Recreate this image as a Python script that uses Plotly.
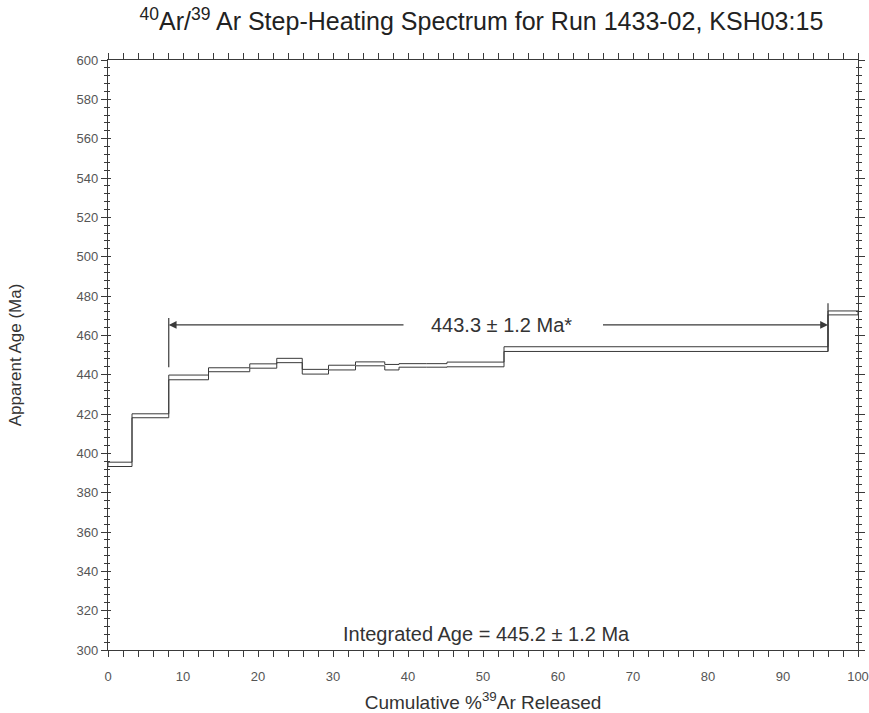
import plotly.graph_objects as go

# Cumulative % 39Ar released at step boundaries
boundaries = [0, 3.2, 8.1, 13.4, 18.9, 22.5, 25.9, 29.4, 33.0, 36.9, 38.8, 42.5, 45.2, 52.8, 96.0, 100]
# Apparent age (Ma) and 1-sigma error of each heating step
ages = [394.4, 419.1, 438.6, 442.5, 444.4, 447.2, 441.5, 443.6, 445.5, 443.8, 444.7, 444.7, 445.2, 453.0, 471.4]
errors = [1.1, 1.0, 1.2, 1.0, 1.1, 1.1, 1.2, 1.2, 1.0, 1.4, 0.9, 0.9, 1.2, 1.2, 1.0]

# Plateau definition
plateau_start, plateau_end = 8.1, 96.0
plateau_label = "443.3 ± 1.2 Ma*"
plateau_arrow_age = 465.3
integrated_label = "Integrated Age = 445.2 ± 1.2 Ma"

x_ticks = list(range(0, 101, 10))
y_ticks = list(range(300, 601, 20))

LINE = "#3a3a3a"
TEXT = "#333333"
FONT = "Liberation Sans, Arial, Helvetica, sans-serif"

upper = [a + e for a, e in zip(ages, errors)]
lower = [a - e for a, e in zip(ages, errors)]

fig = go.Figure()

# Upper and lower envelopes of the age spectrum as staircases
for env in (upper, lower):
    fig.add_trace(go.Scatter(
        x=boundaries, y=env + [env[-1]], mode="lines",
        line=dict(shape="hv", color=LINE, width=1),
        hoverinfo="skip", showlegend=False))

# Close the boxes at the ends of the spectrum
for xb, i in ((boundaries[0], 0), (boundaries[-1], -1)):
    fig.add_trace(go.Scatter(
        x=[xb, xb], y=[lower[i], upper[i]], mode="lines",
        line=dict(color=LINE, width=1), hoverinfo="skip", showlegend=False))

# Inside tick marks on the y axes (drawn through an overlaid axis)
fig.add_trace(go.Scatter(x=[0], y=[300], yaxis="y2", mode="markers",
                         marker=dict(opacity=0), hoverinfo="skip", showlegend=False))

# Plateau bracket verticals
i0 = boundaries.index(plateau_start)
i1 = boundaries.index(plateau_end)
fig.add_shape(type="line", x0=plateau_start, x1=plateau_start,
              y0=upper[i0] + 4, y1=plateau_arrow_age + 3.5,
              line=dict(color=LINE, width=1.2))
fig.add_shape(type="line", x0=plateau_end, x1=plateau_end,
              y0=lower[i1 - 1], y1=plateau_arrow_age + 11,
              line=dict(color=LINE, width=1.2))

# Plateau arrows and label
mid = 52.5
fig.add_annotation(x=mid, y=plateau_arrow_age, text=plateau_label, showarrow=False,
                   font=dict(family=FONT, size=20, color=TEXT), xanchor="center")
fig.add_annotation(x=plateau_start, y=plateau_arrow_age, ax=39.6, ay=plateau_arrow_age,
                   axref="x", ayref="y", text="", showarrow=True, arrowhead=2,
                   arrowsize=1.3, arrowwidth=1.2, arrowcolor=LINE)
fig.add_annotation(x=plateau_end, y=plateau_arrow_age, ax=65.8, ay=plateau_arrow_age,
                   axref="x", ayref="y", text="", showarrow=True, arrowhead=2,
                   arrowsize=1.3, arrowwidth=1.2, arrowcolor=LINE)

fig.add_annotation(x=50.5, y=301.5, text=integrated_label, showarrow=False,
                   yanchor="bottom", font=dict(family=FONT, size=20, color=TEXT))

axis_common = dict(showline=True, linecolor=LINE, linewidth=1.2, showgrid=False,
                   zeroline=False, ticks="outside", ticklen=6, tickwidth=1.2,
                   tickcolor=LINE, mirror="allticks", automargin=False,
                   tickfont=dict(family=FONT, size=13, color="#555555"))

fig.update_layout(
    width=869, height=713,
    margin=dict(l=108, r=11, t=60, b=63),
    paper_bgcolor="white", plot_bgcolor="white",
    font=dict(family=FONT, color=TEXT),
    title=dict(text="<sup>40</sup>Ar/<sup>39</sup> Ar Step-Heating Spectrum for Run 1433-02, KSH03:15",
               x=0.554, xanchor="center", y=0.97, yanchor="middle", yref="container",
               font=dict(family=FONT, size=25, color="#222222")),
    xaxis=dict(range=[0, 100], tickvals=x_ticks, ticklabelstandoff=8,
               minor=dict(dtick=2, ticklen=3, tickwidth=1, tickcolor=LINE, ticks="outside"),
               title=dict(text="Cumulative %<sup>39</sup>Ar Released", standoff=14,
                          font=dict(family=FONT, size=19, color=TEXT)),
               **axis_common),
    yaxis=dict(range=[300, 600], tickvals=y_ticks,
               minor=dict(dtick=4, ticklen=3, tickwidth=1, tickcolor=LINE, ticks="outside"),
               title=dict(text="Apparent Age (Ma)", standoff=50,
                          font=dict(family=FONT, size=17, color=TEXT)),
               **axis_common),
    yaxis2=dict(range=[300, 600], overlaying="y", side="left", showline=False,
                showgrid=False, zeroline=False, showticklabels=False,
                ticks="inside", ticklen=3, tickwidth=1, tickcolor=LINE,
                mirror="allticks", tickvals=y_ticks, automargin=False,
                minor=dict(dtick=4, ticklen=2, tickwidth=1, tickcolor=LINE, ticks="inside")),
)

fig.write_html("out.html")
